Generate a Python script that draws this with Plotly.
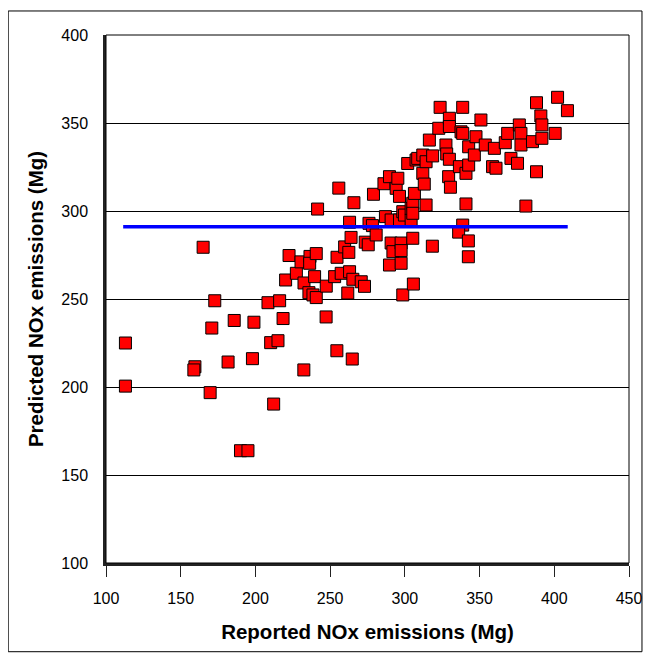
import plotly.graph_objects as go

reported = [113, 113, 159.5, 158.8, 165, 170.8, 169.7, 172.8, 181.7, 185.8, 190, 195, 198, 199,
            208.4, 210.2, 212.2, 215.1, 216.2, 218.5, 220.2, 222.5, 227.4, 230.5, 232.5, 232.4,
            235.8, 236.5, 236.3, 238.5, 239.6, 240.7, 240.7, 241.6, 247.4, 247.3, 253, 254.6,
            254.5, 255.8, 257.4, 259.7, 261.8, 262.5, 263, 263, 264, 264.8, 265.2, 265.9, 270.8,
            273, 273.5, 275.5, 276, 278.3, 279, 280.8, 286, 287, 289.7, 289.7, 290.8, 290.8, 292,
            294.2, 295.3, 296.4, 296.4, 297.5, 297.5, 297.5, 298.6, 298.6, 299.7, 301.9, 304.2,
            304.2, 305.3, 305.3, 305.3, 305.7, 306.4, 307.5, 308.6, 312, 312, 313, 314.2, 314.2,
            316.4, 318.6, 318.4, 322.7, 323.6, 327.5, 328, 329.8, 329.8, 329.8, 329.3, 330.5,
            336.5, 337.6, 338.7, 338.7, 338.7, 336, 340.9, 340.9, 342.5, 342.5, 342.7, 342.7,
            346.5, 347.6, 350.9, 353.8, 358.7, 359.9, 361, 367.2, 368.8, 371, 375.4, 376.6, 377.7,
            377.7, 381, 385.4, 388.1, 388.1, 391, 391.7, 391.7, 400.6, 402.2, 408.8]
predicted = [225, 200.5, 211.5, 209.7, 279.4, 233.5, 196.8, 249, 214.2, 237.8, 163.8, 163.8, 216.1,
             236.8, 247.9, 225.2, 190.3, 226.3, 249, 238.9, 260.8, 274.7, 264.6, 271.1, 259.1,
             209.7, 253.6, 274.2, 270.3, 252.3, 262.7, 275.8, 250.8, 301.1, 257.3, 239.8, 262.7,
             273.7, 220.6, 313, 264.6, 279.6, 253.4, 276.5, 265.5, 293.6, 285, 215.9, 261.2, 304.7,
             259.8, 257.2, 282.3, 280.8, 293, 291.7, 309.5, 286.4, 315.5, 296.8, 319.5, 269.3,
             281.8, 294.9, 276.9, 312.9, 318.6, 308.3, 294.9, 281.8, 277.5, 270.3, 252.3, 299.6,
             297.7, 327, 294.9, 301.5, 304.4, 298.7, 284.5, 258.5, 310, 329, 329.9, 331.8, 321.4,
             315.3, 328, 303.4, 340.3, 331.3, 280, 347, 358.9, 337.5, 332.4, 352.7, 348, 329.4,
             319.5, 313.5, 325.2, 345, 344.1, 358.9, 292, 288, 321.4, 304, 283, 274, 336.5, 326.1,
             331.8, 342.2, 351.7, 337.5, 325.2, 335.6, 324.3, 338.8, 344.1, 329.9, 327.1, 348.9,
             344.1, 337.5, 302.8, 339.4, 361.5, 322.3, 354, 348.9, 341.3, 344.1, 364.6, 357]

line_x = [111.5, 409]
line_y = [291, 291]

x_ticks = [100, 150, 200, 250, 300, 350, 400, 450]
y_ticks = [100, 150, 200, 250, 300, 350, 400]

fig = go.Figure()
fig.add_trace(go.Scatter(
    x=reported, y=predicted, mode="markers",
    marker=dict(symbol="square", size=12, color="#FF0000",
                line=dict(color="#000000", width=1)),
    showlegend=False, hoverinfo="skip"))
fig.add_trace(go.Scatter(
    x=line_x, y=line_y, mode="lines",
    line=dict(color="#0000FF", width=3.5), showlegend=False))

font_fam = "Liberation Sans, Arial, sans-serif"
# the page body has an 8px margin, so the figure is sized/offset to compensate
fig.update_layout(
    width=646, height=646,
    margin=dict(l=98, r=16, t=27, b=91),
    paper_bgcolor="white", plot_bgcolor="white",
    font=dict(family=font_fam, size=16, color="black"),
    xaxis=dict(range=[100, 450], tickvals=x_ticks, ticktext=[str(v) for v in x_ticks],
               showgrid=False, zeroline=False, showline=True, linecolor="#222222",
               linewidth=2.5, ticks="outside", ticklen=11, tickcolor="#222222",
               tickwidth=1, ticklabelstandoff=8,
               title=dict(text="<b>Reported NOx emissions (Mg)</b>",
                          font=dict(size=20.5), standoff=19)),
    yaxis=dict(range=[100, 400], tickvals=y_ticks, ticktext=[str(v) for v in y_ticks],
               showgrid=True, gridcolor="#000000", gridwidth=1, zeroline=False,
               showline=True, linecolor="#222222", linewidth=2.5, ticks="",
               ticklabelstandoff=12,
               title=dict(text="<b>Predicted NOx emissions (Mg)</b>",
                          font=dict(size=20.5), standoff=13)),
    shapes=[
        dict(type="rect", xref="paper", yref="paper", x0=0, x1=1, y0=0, y1=1,
             line=dict(color="black", width=1), layer="above"),
        dict(type="rect", xref="paper", yref="paper", x0=-0.187, x1=1.0248,
             y0=-0.168, y1=1.0455, line=dict(color="black", width=1), layer="below"),
    ],
)

fig.write_html("out.html")
